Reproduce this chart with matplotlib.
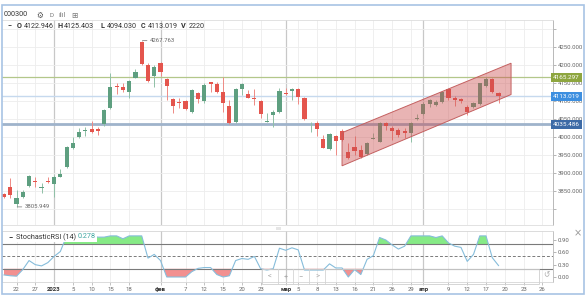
import matplotlib
matplotlib.use('Agg')
import matplotlib.pyplot as plt
from matplotlib.patches import Rectangle
from matplotlib.lines import Line2D
import numpy as np

# ---------------- data ----------------
opens = [3842, 3862, 3814, 3834, 3864, 3878, 3859, 3878, 3869, 3890,
         3916, 3970, 3999, 4016, 4021, 4022, 4035, 4080, 4142, 4140,
         4126, 4165, 4265, 4200, 4169, 4206, 4160, 4105, 4098, 4100,
         4069, 4123, 4100, 4152, 4146, 4126, 4087, 4041, 4133, 4120,
         4108, 4101, 4043, 4061, 4070, 4123, 4129, 4133, 4108, 4035,
         4038, 3994, 3967, 4003, 4016, 3959, 3973, 3964, 3952, 3995,
         3987, 4040, 4024, 4019, 4017, 4012, 4050, 4063, 4092, 4089,
         4098, 4133, 4109, 4105, 4083, 4083, 4092, 4142, 4160, 4122.946]
closes = [3834, 3839, 3831, 3846, 3892, 3874, 3860, 3875, 3890, 3896,
          3971, 3983, 4014, 4019, 4013, 4018, 4075, 4138, 4138, 4131,
          4156, 4180, 4202, 4156, 4195, 4181, 4142, 4087, 4095, 4077,
          4131, 4106, 4144, 4146, 4124, 4095, 4038, 4133, 4146, 4109,
          4105, 4063, 4044, 4070, 4128, 4119, 4133, 4110, 4050, 4036,
          4022, 3970, 4008, 3989, 3992, 3941, 3962, 3944, 3984, 3996,
          4040, 4031, 4017, 4006, 4012, 4040, 4052, 4092, 4103, 4098,
          4126, 4108, 4103, 4100, 4070, 4094, 4149, 4160, 4126, 4113.019]
highs = [3845, 3886, 3853, 3853, 3894, 3890, 3871, 3890, 3894, 3910,
         3975, 4001, 4024, 4029, 4044, 4029, 4077, 4177, 4149, 4151,
         4158, 4188, 4267.763, 4205, 4200, 4209, 4163, 4108, 4108, 4103,
         4133, 4126, 4149, 4154, 4152, 4168, 4103, 4135, 4151, 4131,
         4133, 4103, 4066, 4075, 4135, 4135, 4137, 4135, 4112, 4043,
         4045, 4006, 4010, 4006, 4021, 3984, 4003, 3978, 3987, 4012,
         4043, 4043, 4031, 4026, 4024, 4043, 4063, 4098, 4105, 4103,
         4129, 4135, 4114, 4109, 4089, 4098, 4151, 4168, 4163, 4125.403]
lows = [3831, 3831, 3805.949, 3831, 3861, 3862, 3844, 3871, 3834, 3888,
        3915, 3968, 3996, 4003, 4010, 4005, 4031, 4077, 4119, 4126,
        4108, 4163, 4200, 4154, 4140, 4169, 4103, 4066, 4080, 4075,
        4066, 4095, 4095, 4126, 4121, 4070, 4036, 4040, 4117, 4108,
        4089, 4052, 4042, 4029, 4066, 4117, 4103, 4091, 4047, 4015,
        4003, 3969, 3964, 3950, 3990, 3938, 3950, 3941, 3950, 3994,
        3986, 4019, 3992, 3999, 3996, 3987, 4047, 4061, 4084, 4086,
        4095, 4103, 4086, 4094, 4061, 4080, 4089, 4140, 4123, 4094.030]
stoch_rsi = [0.05, 0.03, 0.02, 0.18, 0.40, 0.30, 0.27, 0.35, 0.50, 0.62,
             1.0, 1.0, 1.0, 1.0, 1.0, 0.97, 0.97, 1.0, 1.0, 0.93,
             1.0, 1.0, 1.0, 0.46, 0.55, 0.40, 0.0, 0.0, 0.0, 0.0,
             0.13, 0.21, 0.23, 0.23, 0.06, 0.0, 0.03, 0.40, 0.45, 0.43,
             0.50, 0.20, 0.17, 0.20, 0.70, 0.65, 0.71, 0.66, 0.17, 0.17,
             0.17, 0.17, 0.32, 0.22, 0.22, 0.0, 0.18, 0.06, 0.43, 0.52,
             0.96, 0.90, 0.78, 0.68, 0.75, 1.0, 1.0, 1.0, 1.0, 0.96,
             1.0, 0.83, 0.75, 0.72, 0.38, 0.55, 1.0, 1.0, 0.47, 0.278]

tick_pos = [3, 6, 9, 12, 15, 18, 21, 26, 30, 33, 36, 39, 42, 46, 48, 51, 54,
            57, 60, 63, 66, 68, 72, 75, 78, 81, 84, 87]
tick_labels = ['22', '27', '2023', '5', '10', '15', '18', 'фев', '7', '12', '15',
               '20', '23', 'мар', '5', '8', '13', '16', '21', '26', '29', 'апр',
               '9', '12', '17', '20', '23', '26']
month_ticks = ['2023', 'фев', 'мар', 'апр']

price_ticks = [3800, 3850, 3900, 3950, 4000, 4050, 4100, 4150, 4200, 4250, 4300]
level_lines = [4165.297, 4113.019, 4035.486]
level_labels = ['4165.297', '4113.019', '4035.486']

channel_x = [55.0, 82.0]
channel_top = [4012, 4205]
channel_bottom = [3920, 4118]

stoch_levels = [0.8, 0.5, 0.2]
stoch_ticks = [0.0, 0.3, 0.6, 0.9]

# ---------------- figure ----------------
W, H = 586, 295
plt.rcParams['font.family'] = ['Roboto', 'DejaVu Sans']
fig = plt.figure(figsize=(W / 100, H / 100), dpi=100)
fig.patch.set_facecolor('white')


def fx(x):
    return x / W


def fy(y):
    return 1 - y / H


ax = fig.add_axes([fx(2), fy(225), fx(553) - fx(2), fy(20) - fy(225)])
sx = fig.add_axes([fx(2), fy(282), fx(553) - fx(2), fy(231) - fy(282)], sharex=ax)

x = np.arange(1, len(opens) + 1)
o = np.array(opens); c = np.array(closes); h = np.array(highs); l = np.array(lows)
up = c >= o
GREEN = '#5e9f80'
RED = '#e4554d'
body_cols = [GREEN if u else RED for u in up]
wick_cols = ['#8fc0a6' if u else '#ee8a84' for u in up]

ax.set_xlim(0.68, 88.7)
ax.set_ylim(3755.6, 4325.0)

# grid
for t, lab in zip(tick_pos, tick_labels):
    if lab in month_ticks:
        ax.axvline(t, color='#c8c8c8', lw=0.9, zorder=1)
        sx.axvline(t, color='#c8c8c8', lw=0.9, zorder=1)
    else:
        ax.axvline(t, color='#ececec', lw=0.6, zorder=1)
        sx.axvline(t, color='#ececec', lw=0.6, zorder=1)
for p in price_ticks:
    ax.axhline(p, color='#ededed', lw=0.6, zorder=1)

# level lines
ax.axhline(level_lines[0], color='#b3c78a', lw=0.9, zorder=2)
ax.axhline(level_lines[1], color='#c6d9ee', lw=1.0, zorder=2)
ax.axhline(level_lines[2], color='#9fb3cb', lw=2.0, zorder=2)

# candles
ax.vlines(x, l, h, colors=wick_cols, lw=0.7, zorder=3)
ax.bar(x, np.maximum(np.abs(c - o), 0.9), bottom=np.minimum(o, c), width=0.66,
       color=body_cols, linewidth=0, zorder=4)

# channel
ax.fill([channel_x[0], channel_x[1], channel_x[1], channel_x[0]],
        [channel_top[0], channel_top[1], channel_bottom[1], channel_bottom[0]],
        facecolor=(0.80, 0.30, 0.30, 0.42), edgecolor='#c46060', lw=0.7, zorder=5)

# high / low markers
ax.annotate('4267.763', xy=(23, highs[22]), xytext=(8, 0), textcoords='offset pixels',
            fontsize=4.3, color='#666', va='center', ha='left',
            arrowprops=dict(arrowstyle='-', color='#888', lw=0.6, shrinkA=0, shrinkB=0.5))
ax.annotate('3805.949', xy=(3, lows[2]), xytext=(8, 0), textcoords='offset pixels',
            fontsize=4.3, color='#666', va='center', ha='left',
            arrowprops=dict(arrowstyle='-', color='#888', lw=0.6, shrinkA=0, shrinkB=0.5))

# axes styling main
ax.yaxis.tick_right()
ax.set_yticks(price_ticks)
ax.set_yticklabels(['' if p in (3800, 4300) else f'{p:.3f}' for p in price_ticks])
ax.tick_params(axis='y', labelsize=4.3, labelcolor='#666', color='#999', length=2.5,
               width=0.5, pad=1)
ax.tick_params(axis='x', length=0, labelbottom=False)
ax.spines['left'].set_visible(False)
ax.spines['top'].set_color('#dddddd'); ax.spines['top'].set_linewidth(0.6)
ax.spines['bottom'].set_color('#dddddd'); ax.spines['bottom'].set_linewidth(0.6)
ax.spines['right'].set_color('#b8b8b8'); ax.spines['right'].set_linewidth(0.7)

# badges
badge_cols = ['#8ea63f', '#3d8fe0', '#3c6aa6']
for v, s, col in zip(level_lines, level_labels, badge_cols):
    ax.text(1.0, v, s, transform=ax.get_yaxis_transform(), ha='left', va='center',
            fontsize=4.6, color='white', zorder=10,
            bbox=dict(boxstyle='square,pad=0.28', fc=col, ec='none'))

# ---------------- stochastic RSI ----------------
sv = np.array(stoch_rsi)
sx.set_ylim(-0.1216, 1.119)
sx.fill_between(x, sv, 0.8, where=sv > 0.8, interpolate=True, color='#86ea86', lw=0, zorder=2)
sx.fill_between(x, sv, 0.2, where=sv < 0.2, interpolate=True, color='#f29090', lw=0, zorder=2)
sx.axhline(stoch_levels[0], color='#7a7a7a', lw=0.8, zorder=3)
sx.axhline(stoch_levels[1], color='#7a7a7a', lw=0.7, ls=(0, (3, 2)), zorder=3)
sx.axhline(stoch_levels[2], color='#7a7a7a', lw=0.8, zorder=3)
sx.plot(x, sv, color='#86bddb', lw=0.8, zorder=4)

sx.yaxis.tick_right()
sx.set_yticks(stoch_ticks)
sx.set_yticklabels([f'{v:.2f}' for v in stoch_ticks])
sx.tick_params(axis='y', labelsize=4.3, labelcolor='#666', color='#999', length=2.5,
               width=0.5, pad=1)
sx.set_xticks(tick_pos)
sx.set_xticklabels(tick_labels)
sx.tick_params(axis='x', labelsize=4.3, labelcolor='#666', color='#aaa', length=2.5,
               width=0.5, pad=0.8)
for lab in sx.get_xticklabels():
    if lab.get_text() in month_ticks:
        lab.set_color('#333')
        lab.set_fontweight('bold')
for s in sx.spines.values():
    s.set_color('#d6d6d6'); s.set_linewidth(0.6)
sx.spines['right'].set_color('#b8b8b8')

# ---------------- overlays in pixel space ----------------
def prect(x0, y0, x1, y1, **kw):
    r = Rectangle((fx(x0), fy(y1)), fx(x1) - fx(x0), fy(y0) - fy(y1),
                  transform=fig.transFigure, **kw)
    fig.patches.append(r)
    return r


def pline(xs, ys, **kw):
    fig.lines.append(Line2D([fx(v) for v in xs], [fy(v) for v in ys],
                            transform=fig.transFigure, **kw))


# stoch legend box
prect(3, 232, 97, 242, fc='white', ec='none', zorder=1)
fig.text(fx(8), fy(237), '−', fontsize=5.5, color='#333', va='center', ha='left', weight='bold')
fig.text(fx(16), fy(237), 'StochasticRSI (14)', fontsize=5.2, color='#333', va='center', ha='left')
fig.text(fx(78), fy(237), '0.278', fontsize=5.2, color='#3ea59f', va='center', ha='left')

# navigation box
prect(262, 269, 539, 284, fill=False, ec='#cfcfcf', lw=0.6, zorder=1)
for xd in [278, 293, 309, 325]:
    pline([xd, xd], [269, 284], color='#d4d4d4', lw=0.6)
for xg, g in zip([270, 285.5, 301, 317], ['<', '+', '−', '>']):
    fig.text(fx(xg), fy(276.5), g, fontsize=5.5, color='#aaa', ha='center', va='center')
fig.text(fx(546), fy(275), '↺', fontsize=5.5, color='#aaa', ha='center', va='center',
         family=['DejaVu Sans'])
fig.text(fx(578), fy(233), '×', fontsize=7, color='#999', ha='center', va='center',
         family=['DejaVu Sans'])
prect(276, 227, 281, 230, fc='#e6e6e6', ec='none', zorder=1)

# header
fig.text(fx(4), fy(15), '000300', fontsize=5.2, color='#333', va='center', ha='left')
fig.text(fx(40), fy(15), '⚙', fontsize=5.5, color='#555', va='center', ha='center',
         family=['DejaVu Sans'])
fig.text(fx(51.5), fy(15.5), 'D', fontsize=4.5, color='#777', va='center', ha='center')
fig.text(fx(62), fy(15), 'ılıl', fontsize=4.8, color='#777', va='center', ha='center',
         family=['DejaVu Sans'])
fig.text(fx(74), fy(15), '⊞', fontsize=5.5, color='#777', va='center', ha='center',
         family=['DejaVu Sans'])

hdr = [(7, '−', True), (16.5, 'O', True), (24, '4122.946', False), (57, 'H', True),
       (64, '4125.403', False), (100, 'L', True), (107, '4094.030', False),
       (140.5, 'C', True), (148, '4113.019', False), (181, 'V', True), (189, '2220', False)]
for xp, s, b in hdr:
    fig.text(fx(xp), fy(26), s, fontsize=5.2, color='#333', va='center', ha='left',
             weight='bold' if b else 'normal')

# outer frame
prect(1.5, 4.5, 584, 294, fill=False, ec='#a8c4e4', lw=1.2, zorder=5)

fig.savefig('out.png', dpi=100)
